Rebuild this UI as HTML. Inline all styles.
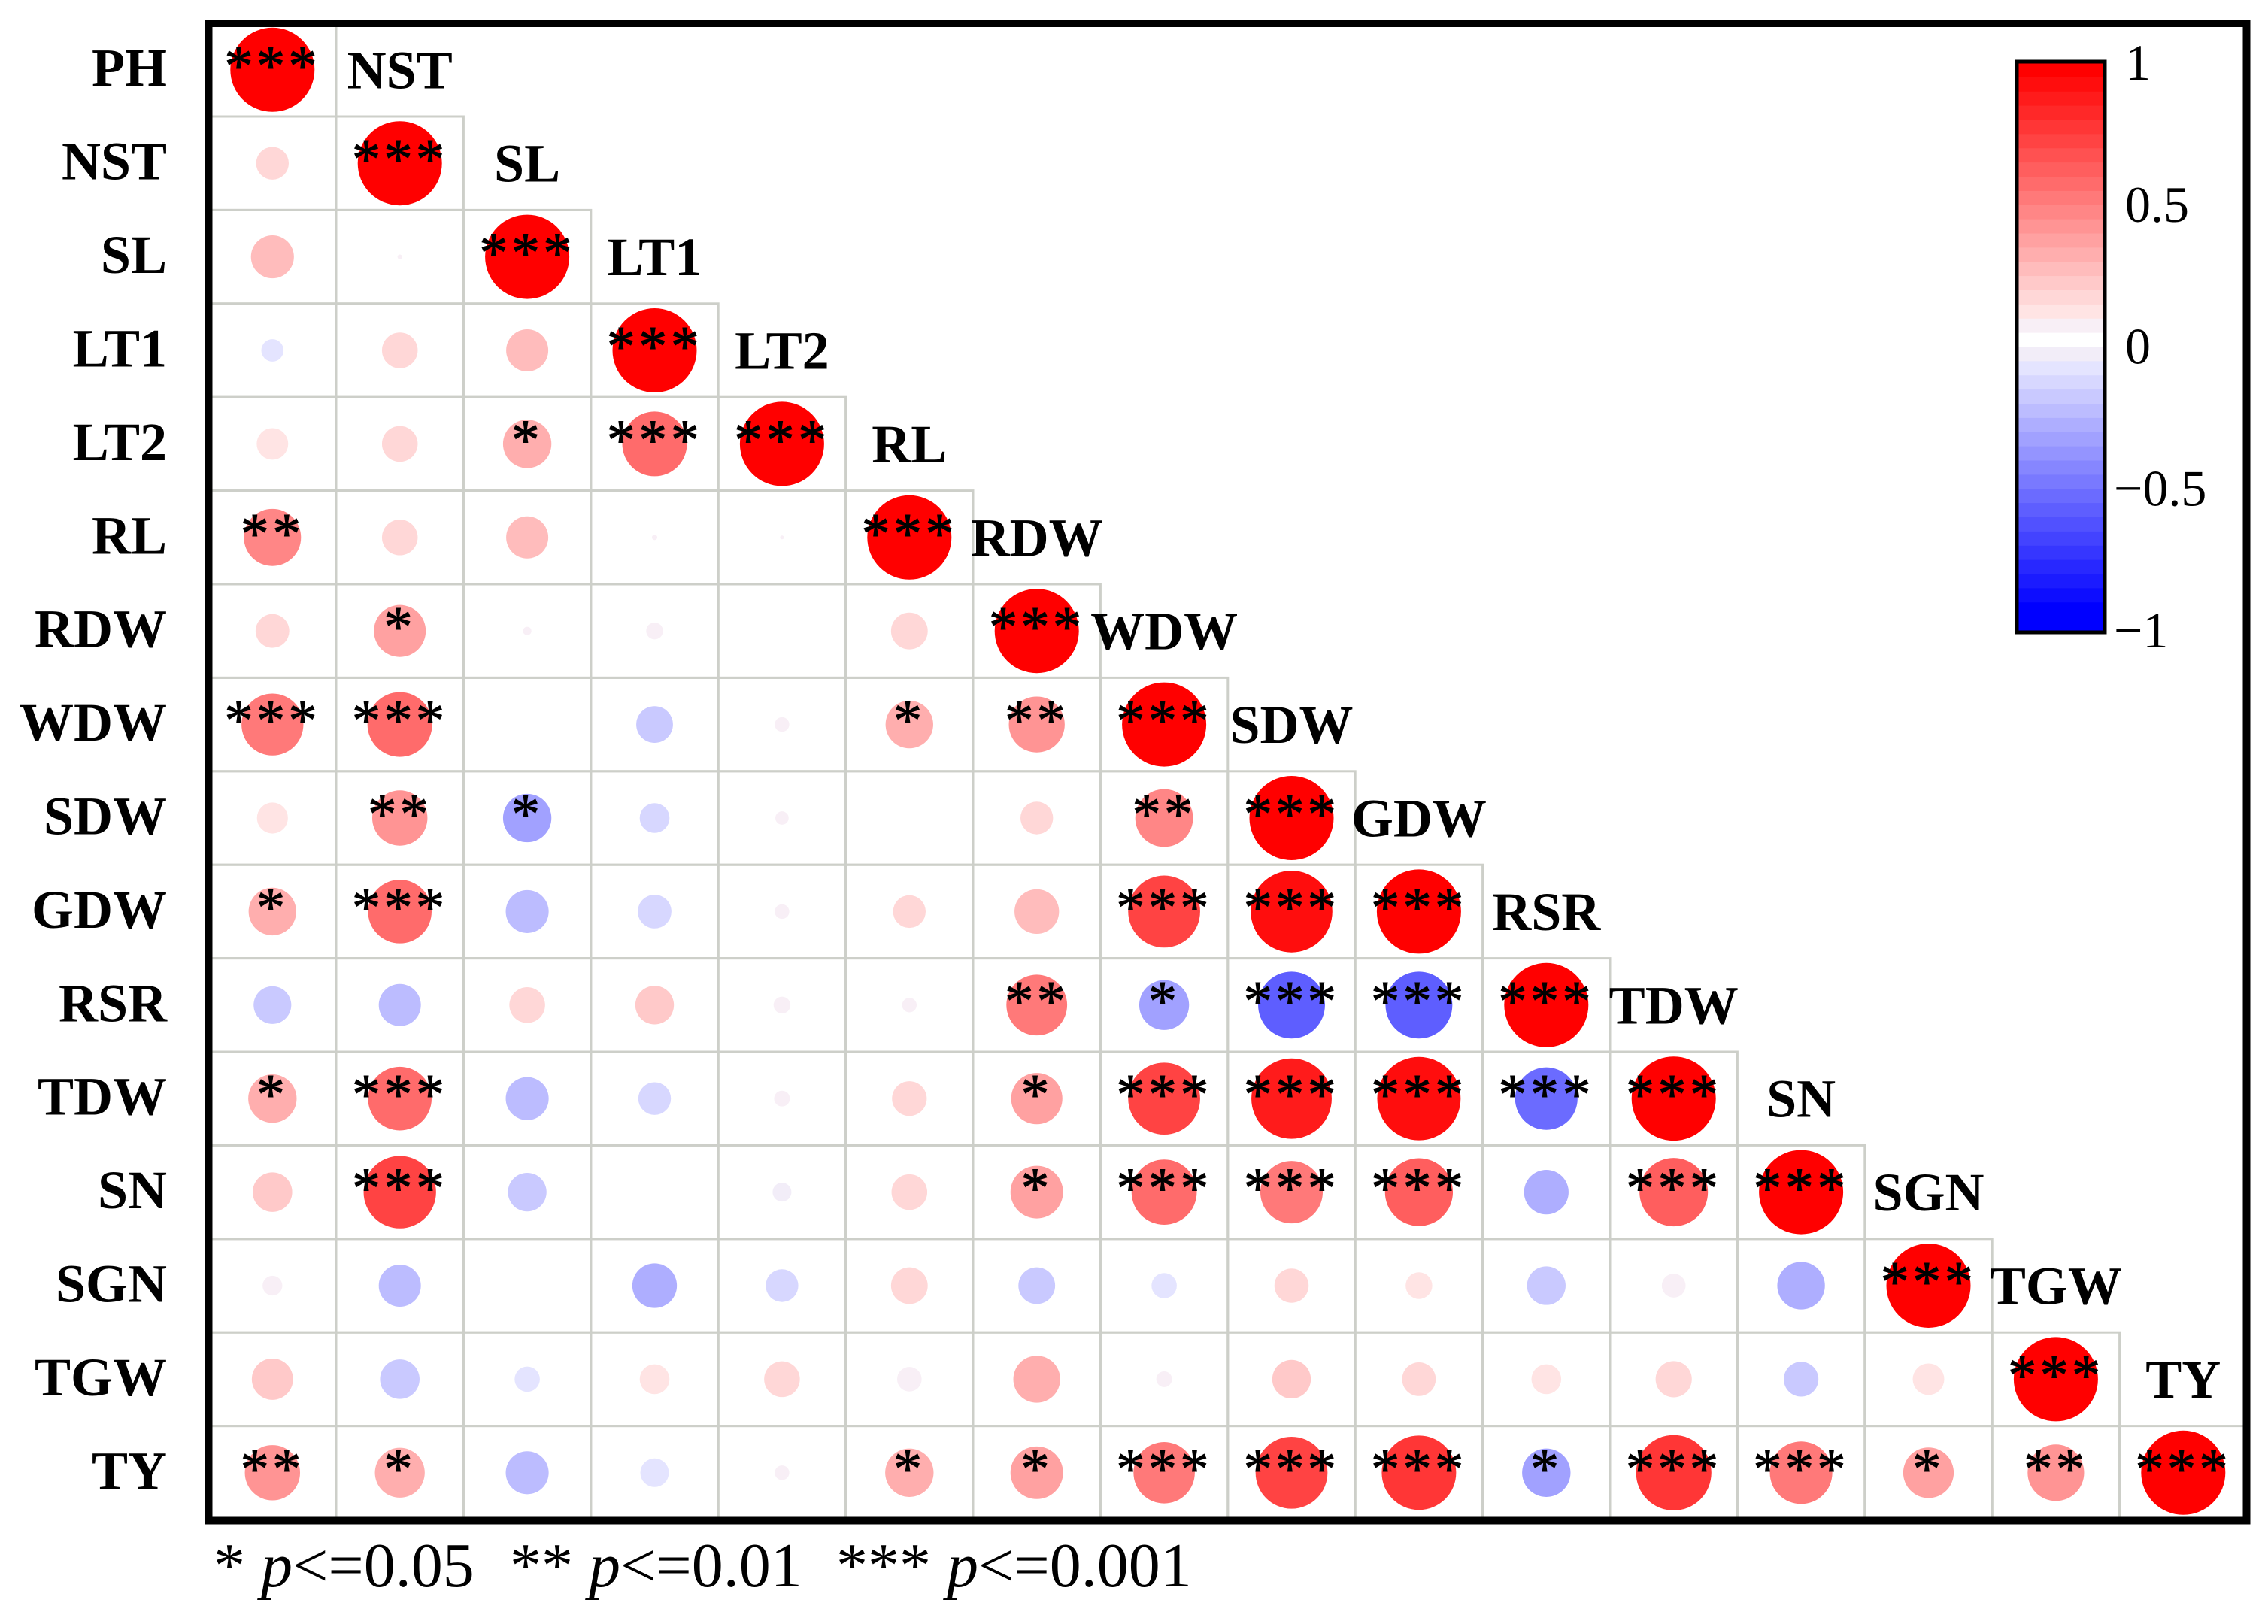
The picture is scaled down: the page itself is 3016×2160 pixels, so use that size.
<!DOCTYPE html>
<html lang="en">
<head>
<meta charset="utf-8">
<title>Correlation matrix</title>
<style>
  html, body { margin: 0; padding: 0; background: #fff; }
  svg { display: block; font-family: "Liberation Serif", serif; }
</style>
</head>
<body>
<svg id="chart" xmlns="http://www.w3.org/2000/svg" width="3016" height="2160" viewBox="0 0 3016 2160">
  <rect x="0" y="0" width="3016" height="2160" fill="#fff"/>
  <g id="grid"></g>
  <g id="circles"></g>
  <g id="stars"></g>
  <g id="labels"></g>
  <rect x="277.5" y="31" width="2710" height="1991.5" fill="none" stroke="#000" stroke-width="10"/>
  <g id="colorbar"></g>
  <g font-size="84" fill="#000">
    <text x="284" y="2110" xml:space="preserve">* <tspan font-style="italic">p</tspan>&lt;=0.05</text>
    <text x="678" y="2110" xml:space="preserve">** <tspan font-style="italic">p</tspan>&lt;=0.01</text>
    <text x="1112" y="2110" xml:space="preserve">*** <tspan font-style="italic">p</tspan>&lt;=0.001</text>
  </g>
</svg>
<script>
const variables = ["PH","NST","SL","LT1","LT2","RL","RDW","WDW","SDW","GDW","RSR","TDW","SN","SGN","TGW","TY"];

const corrPH  = [1];
const corrNST = [0.15,1];
const corrSL  = [0.26,0.003,1];
const corrLT1 = [-0.07,0.18,0.25,1];
const corrLT2 = [0.14,0.18,0.33,0.59,1];
const corrRL  = [0.46,0.18,0.25,0.004,0.002,1];
const corrRDW = [0.16,0.38,0.01,0.04,0,0.19,1];
const corrWDW = [0.54,0.59,0,-0.19,0.03,0.32,0.44,1];
const corrSDW = [0.135,0.43,-0.33,-0.125,0.025,0,0.15,0.47,1];
const corrGDW = [0.32,0.57,-0.26,-0.16,0.03,0.15,0.28,0.73,0.94,1];
const corrRSR = [-0.2,-0.25,0.18,0.21,0.04,0.03,0.52,-0.35,-0.63,-0.63,1];
const corrTDW = [0.33,0.57,-0.26,-0.15,0.035,0.17,0.37,0.73,0.91,0.98,-0.55,1];
const corrSN  = [0.22,0.74,-0.21,0,-0.05,0.18,0.39,0.6,0.55,0.65,-0.28,0.66,1];
const corrSGN = [0.055,-0.25,0,-0.28,-0.15,0.19,-0.19,-0.09,0.165,0.1,-0.21,0.08,-0.32,1];
const corrTGW = [0.24,-0.22,-0.09,0.125,0.18,0.085,0.31,0.035,0.21,0.16,0.125,0.185,-0.17,0.14,1];
const corrTY  = [0.43,0.35,-0.26,-0.115,0.03,0.33,0.39,0.53,0.73,0.78,-0.33,0.8,0.55,0.36,0.45,1];
const correlationRows = [corrPH,corrNST,corrSL,corrLT1,corrLT2,corrRL,corrRDW,corrWDW,corrSDW,corrGDW,corrRSR,corrTDW,corrSN,corrSGN,corrTGW,corrTY];

const sigPH  = [3];
const sigNST = [0,3];
const sigSL  = [0,0,3];
const sigLT1 = [0,0,0,3];
const sigLT2 = [0,0,1,3,3];
const sigRL  = [2,0,0,0,0,3];
const sigRDW = [0,1,0,0,0,0,3];
const sigWDW = [3,3,0,0,0,1,2,3];
const sigSDW = [0,2,1,0,0,0,0,2,3];
const sigGDW = [1,3,0,0,0,0,0,3,3,3];
const sigRSR = [0,0,0,0,0,0,2,1,3,3,3];
const sigTDW = [1,3,0,0,0,0,1,3,3,3,3,3];
const sigSN  = [0,3,0,0,0,0,1,3,3,3,0,3,3];
const sigSGN = [0,0,0,0,0,0,0,0,0,0,0,0,0,3];
const sigTGW = [0,0,0,0,0,0,0,0,0,0,0,0,0,0,3];
const sigTY  = [2,1,0,0,0,1,1,3,3,3,1,3,3,1,2,3];
const significanceRows = [sigPH,sigNST,sigSL,sigLT1,sigLT2,sigRL,sigRDW,sigWDW,sigSDW,sigGDW,sigRSR,sigTDW,sigSN,sigSGN,sigTGW,sigTY];

const colorbarTickValues = [1,0.5,0,-0.5,-1];
const colorbarTickLabels = ["1","0.5","0","\u22120.5","\u22121"];

const NS = "http://www.w3.org/2000/svg";
function make(parentId, tag, attrs) {
  const el = document.createElementNS(NS, tag);
  for (const k in attrs) el.setAttribute(k, attrs[k]);
  document.getElementById(parentId).appendChild(el);
  return el;
}

/* axis functions */
const cellW = 169.4, cellH = 124.4, gridX0 = 277.6, gridY0 = 30.6, maxRadius = 56;
function colLeft(c) { return gridX0 + c * cellW; }
function rowTop(r) { return gridY0 + r * cellH; }
function colCenter(c) { return colLeft(c) + cellW / 2; }
function rowCenter(r) { return rowTop(r) + cellH / 2; }
function radiusOf(v) { return maxRadius * Math.sqrt(Math.abs(v)); }

/* discretised colour scale: 40 bands, top = +1, bottom = -1 */
const bandCount = 40;
function bandValue(i) {
  if (i === 19) return 0;
  return Math.max(-1, Math.min(1, (19 - i) / 19));
}
function bandColor(i) {
  const q = bandValue(i);
  if (q === 0) return "#ffffff";
  if (Math.abs(q) < 0.09) return q > 0 ? "#f8eff6" : "#f2edf8";
  const c = Math.round(255 * (1 - Math.abs(q)));
  return q > 0 ? "rgb(255," + c + "," + c + ")" : "rgb(" + c + "," + c + ",255)";
}
function bandIndex(v) {
  if (v >= 0) return 19 - Math.max(0, Math.round(v * 19 - 0.2));
  return 19 + Math.round(-v * 19 + 0.3);
}
function circleColor(v) {
  const i = bandIndex(v);
  return i === 19 ? "#f8eff6" : bandColor(i);
}

/* grid cells */
correlationRows.forEach(function (row, r) {
  row.forEach(function (v, c) {
    const cell = make("grid", "rect", {
      x: colLeft(c), y: rowTop(r), width: cellW, height: cellH,
      fill: "none", stroke: "#cdcfc9", "stroke-width": 3
    });
    
    
  });
});

/* circles and significance stars */
correlationRows.forEach(function (row, r) {
  row.forEach(function (v, c) {
    if (v !== 0) {
      const circle = make("circles", "circle", {
        cx: colCenter(c), cy: rowCenter(r), r: radiusOf(v), fill: circleColor(v)
      });
      
      
    }
    const n = significanceRows[r][c];
    if (n > 0) {
      const star = make("stars", "text", {
        x: colCenter(c), y: rowCenter(r) + 20,
        "text-anchor": "middle", "font-size": 76, "letter-spacing": 4.5,
        fill: "#000", stroke: "#000", "stroke-width": 1
      });
      star.textContent = "*".repeat(n);
      
      
    }
  });
});

/* row labels and diagonal labels */
variables.forEach(function (name, i) {
  const left = make("labels", "text", {
    x: 222, y: rowCenter(i) + 21.5, "text-anchor": "end",
    "font-size": 72, "font-weight": "bold", fill: "#000"
  });
  left.textContent = name;
  
  
  if (i > 0) {
    const top = make("labels", "text", {
      x: colCenter(i), y: rowCenter(i - 1) + 24.5, "text-anchor": "middle",
      "font-size": 72, "font-weight": "bold", fill: "#000"
    });
    top.textContent = name;
    
    
  }
});

/* colour bar */
const barX = 2684, barY = 84, barW = 113, barH = 755;
for (let i = 0; i < bandCount; i++) {
  const band = make("colorbar", "rect", {
    x: barX, y: barY + i * barH / bandCount, width: barW,
    height: barH / bandCount + 0.6, fill: bandColor(i)
  });
  
  
}
const barBorder = make("colorbar", "rect", {
  x: barX - 2, y: barY - 2, width: barW + 4, height: barH + 4,
  fill: "none", stroke: "#000", "stroke-width": 5
});



colorbarTickValues.forEach(function (v, i) {
  const tick = make("colorbar", "text", {
    x: v < 0 ? 2811 : 2826,
    y: barY + 22 + (1 - v) / 2 * barH,
    "font-size": 68, fill: "#000"
  });
  tick.textContent = colorbarTickLabels[i];
  
  
});
</script>
</body>
</html>
